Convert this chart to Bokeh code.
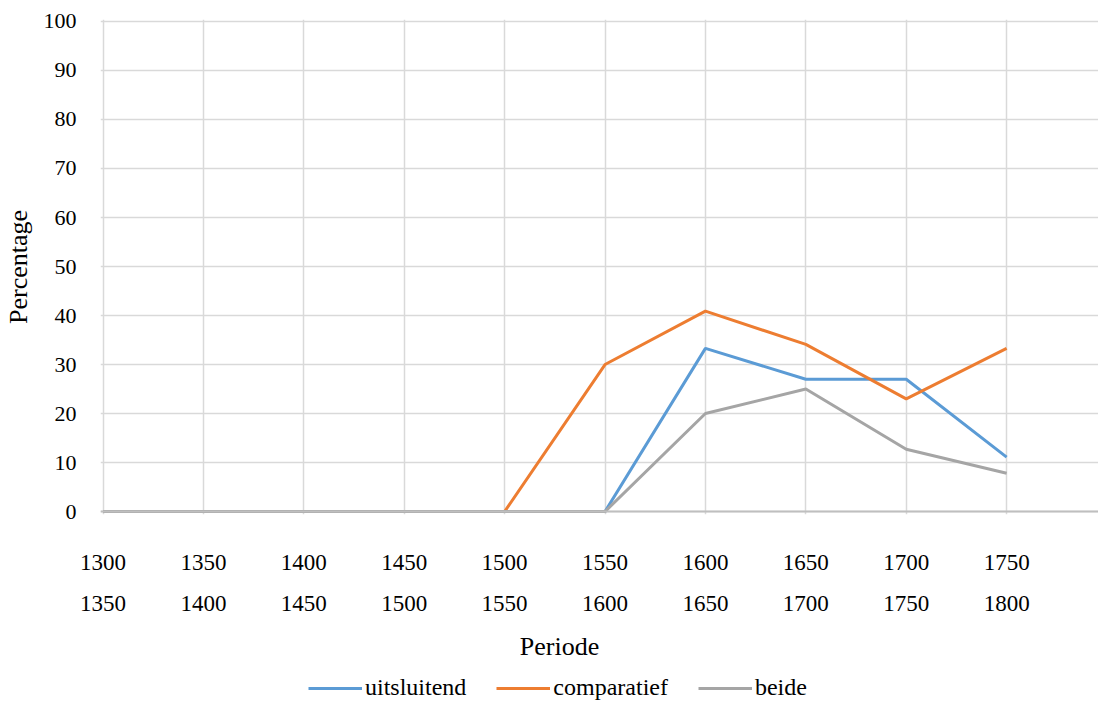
from bokeh.plotting import figure
from bokeh.layouts import column
from bokeh.models import (Range1d, FixedTicker, LinearAxis, Grid, Legend,
                          LegendItem, Label, Span, ColumnDataSource)
from bokeh.embed import file_html
from bokeh.resources import INLINE

# Periods (start and end year of each half century)
period_start = ["1300", "1350", "1400", "1450", "1500", "1550", "1600", "1650", "1700", "1750"]
period_end = ["1350", "1400", "1450", "1500", "1550", "1600", "1650", "1700", "1750", "1800"]

# Percentages per period
uitsluitend = [0, 0, 0, 0, 0, 0, 33.3, 27.0, 27.0, 11.1]
comparatief = [0, 0, 0, 0, 0, 30.0, 40.9, 34.1, 23.0, 33.3]
beide = [0, 0, 0, 0, 0, 0, 20.0, 25.0, 12.7, 7.8]

series_names = ["uitsluitend", "comparatief", "beide"]
y_ticks = list(range(0, 101, 10))

FONT = "Liberation Serif"
COLORS = ["#5B9BD5", "#ED7D31", "#A5A5A5"]

idx = list(range(len(period_start)))
src = ColumnDataSource(dict(x=idx, u=uitsluitend, c=comparatief, b=beide))

# ---- main chart -------------------------------------------------------
p = figure(width=1098, height=625,
           x_range=Range1d(-0.025, 9.915), y_range=Range1d(-0.6, 100.4),
           x_axis_type=None, output_backend="svg", toolbar_location=None,
           min_border_top=19, min_border_left=98, min_border_right=0,
           min_border_bottom=111)
p.outline_line_color = None
p.background_fill_color = "white"
p.border_fill_color = "white"

# horizontal grid + y axis
p.ygrid.ticker = FixedTicker(ticks=y_ticks)
p.ygrid.grid_line_color = "#D9D9D9"
p.ygrid.grid_line_width = 1.5
yax = p.yaxis[0]
yax.ticker = FixedTicker(ticks=y_ticks)
yax.axis_line_color = None
yax.major_tick_line_color = None
yax.minor_tick_line_color = None
yax.major_label_standoff = 18
yax.major_label_text_font = FONT
yax.major_label_text_font_size = "22px"
yax.major_label_text_color = "#000000"
yax.axis_label = "Percentage"
yax.axis_label_text_font = FONT
yax.axis_label_text_font_size = "26px"
yax.axis_label_text_font_style = "normal"
yax.axis_label_text_color = "#000000"
yax.axis_label_standoff = 8

# vertical grid at each period
p.add_layout(Grid(dimension=0, ticker=FixedTicker(ticks=idx),
                  grid_line_color="#D9D9D9", grid_line_width=1.5))

# two rows of period labels
for labels, standoff in ((period_start, 40), (period_end, 23)):
    ax = LinearAxis(ticker=FixedTicker(ticks=idx),
                    major_label_overrides={i: s for i, s in zip(idx, labels)})
    ax.axis_line_color = None
    ax.major_tick_line_color = None
    ax.minor_tick_line_color = None
    ax.major_tick_out = 0
    ax.major_tick_in = 0
    ax.major_label_standoff = standoff
    ax.major_label_text_font = FONT
    ax.major_label_text_font_size = "23px"
    ax.major_label_text_color = "#000000"
    p.add_layout(ax, "below")

# category axis line at zero
p.add_layout(Span(location=0, dimension="width", line_color="#BFBFBF", line_width=2))

for col, color in zip(["u", "c", "b"], COLORS):
    p.line("x", col, source=src, line_color=color, line_width=3)

# ---- axis title and legend strip (pixel coordinates) -------------------
f2 = figure(width=1098, height=77, x_range=Range1d(98, 1098), y_range=Range1d(0, 77),
            x_axis_type=None, y_axis_type=None, output_backend="svg",
            toolbar_location=None, min_border=0, min_border_left=98)
f2.outline_line_color = None
f2.xgrid.visible = False
f2.ygrid.visible = False

f2.add_layout(Label(x=558, y=56, text="Periode", text_align="center",
                    text_baseline="middle", text_font=FONT,
                    text_font_size="26px", text_color="#000000"))

# legend keys: styled lines kept outside the visible strip
keys = [f2.line(x=[0, 1], y=[-50, -50], line_color=color, line_width=3) for color in COLORS]
legend = Legend(items=[LegendItem(label=n, renderers=[r]) for n, r in zip(series_names, keys)],
                orientation="horizontal", location=(208, 1))
legend.label_text_font = FONT
legend.label_text_font_size = "24px"
legend.label_text_color = "#000000"
legend.glyph_width = 54
legend.glyph_height = 24
legend.label_height = 24
legend.label_standoff = 3
legend.spacing = 30
legend.padding = 0
legend.margin = 0
legend.border_line_color = None
legend.background_fill_alpha = 0
f2.add_layout(legend, "center")

layout = column(p, f2, spacing=0)
open("out.html", "w").write(file_html(layout, INLINE))
